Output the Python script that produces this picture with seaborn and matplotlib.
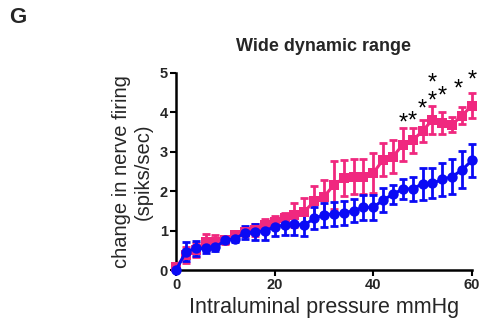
import numpy as np
import pandas as pd
import matplotlib
matplotlib.use("Agg")
import matplotlib.pyplot as plt
import seaborn as sns

pressure = list(range(0, 62, 2))
blue_mean = [0.0, 0.47, 0.55, 0.55, 0.58, 0.76, 0.79, 0.95, 0.97, 0.99, 1.10,
             1.14, 1.16, 1.14, 1.31, 1.40, 1.42, 1.44, 1.51, 1.59, 1.59, 1.78,
             1.92, 2.06, 2.06, 2.19, 2.20, 2.30, 2.37, 2.54, 2.78]
blue_sem = [0.03, 0.25, 0.20, 0.12, 0.10, 0.08, 0.08, 0.17, 0.20, 0.22, 0.23,
            0.25, 0.27, 0.27, 0.28, 0.30, 0.30, 0.30, 0.30, 0.32, 0.32, 0.30,
            0.25, 0.25, 0.30, 0.40, 0.38, 0.42, 0.45, 0.47, 0.42]
pink_mean = [0.08, 0.38, 0.50, 0.72, 0.72, 0.76, 0.89, 0.97, 1.02, 1.14, 1.21,
             1.31, 1.40, 1.48, 1.74, 1.86, 2.16, 2.33, 2.37, 2.37, 2.46, 2.80,
             2.88, 3.18, 3.29, 3.53, 3.81, 3.73, 3.69, 3.92, 4.17]
pink_sem = [0.03, 0.20, 0.18, 0.20, 0.18, 0.10, 0.10, 0.10, 0.15, 0.15, 0.15,
            0.15, 0.30, 0.35, 0.40, 0.42, 0.60, 0.45, 0.45, 0.45, 0.50, 0.42,
            0.42, 0.42, 0.32, 0.28, 0.35, 0.28, 0.20, 0.22, 0.32]
# significance marks above the pink series
star_x = [46, 48, 50, 52, 54, 57.3, 60]
star_y = [3.72, 3.76, 4.06, 4.50, 4.40, 4.57, 4.81]
star_txt = ["*", "*", "*", "*\n*", "*", "*", "*"]

pink = "#F0287F"
blue = "#0A0AF5"

sns.set_style("ticks")
plt.rcParams["font.family"] = ["Liberation Sans", "DejaVu Sans"]

df = pd.DataFrame({"pressure": pressure * 2,
                   "firing": pink_mean + blue_mean,
                   "group": ["pink"] * len(pressure) + ["blue"] * len(pressure)})

fig = plt.figure(figsize=(4.81, 3.27), dpi=100)
ax = fig.add_axes([0.366, 0.174, 0.615, 0.603])

ax.errorbar(pressure, pink_mean, yerr=pink_sem, fmt="none", ecolor=pink,
            elinewidth=2, capsize=3.2, capthick=2, clip_on=False, zorder=2)
ax.errorbar(pressure, blue_mean, yerr=blue_sem, fmt="none", ecolor=blue,
            elinewidth=2, capsize=3.2, capthick=2, clip_on=False, zorder=3)
sns.lineplot(data=df, x="pressure", y="firing", hue="group", style="group",
             palette={"pink": pink, "blue": blue},
             markers={"pink": "s", "blue": "o"}, dashes=False,
             markersize=7.5, markeredgewidth=0, linewidth=2.2,
             legend=False, ax=ax, clip_on=False, zorder=4)

for sx, sy, st in zip(star_x, star_y, star_txt):
    ax.text(sx, sy, st, ha="center", va="center", fontsize=17,
            linespacing=0.72, color="black")

ax.set_xlim(0, 60)
ax.set_ylim(0, 5)
ax.set_xticks([0, 20, 40, 60])
ax.set_yticks([0, 1, 2, 3, 4, 5])
for lbl in ax.get_xticklabels() + ax.get_yticklabels():
    lbl.set_fontweight("bold")
    lbl.set_fontsize(10.5)
ax.tick_params(width=1.5, length=4, pad=2, color="black")
for s in ["left", "bottom"]:
    ax.spines[s].set_linewidth(1.8)
    ax.spines[s].set_color("black")
sns.despine(ax=ax)

ax.set_xlabel("Intraluminal pressure mmHg", fontsize=15.5, labelpad=3)
ax.set_ylabel("change in nerve firing\n(spiks/sec)", fontsize=14.5, labelpad=5)
ax.set_title("Wide dynamic range", fontsize=13, fontweight="bold", pad=16)
fig.text(0.018, 0.945, "G", fontsize=16, fontweight="bold", va="center")

fig.savefig("out.png", dpi=100)
